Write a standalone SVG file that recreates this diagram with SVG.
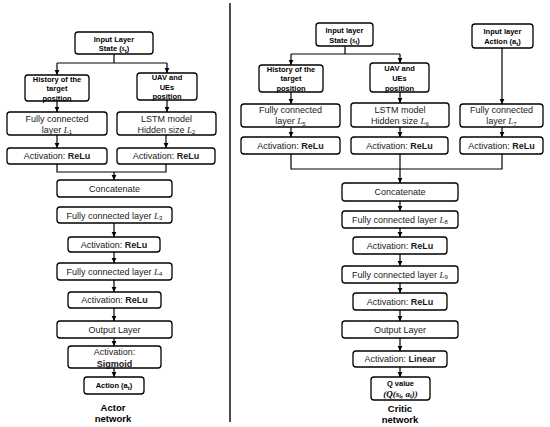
<svg xmlns="http://www.w3.org/2000/svg" width="550" height="427" viewBox="0 0 550 427">
<defs>
<marker id="ah" markerUnits="userSpaceOnUse" markerWidth="6" markerHeight="6" viewBox="0 0 6 6" refX="5" refY="3" orient="auto">
<path d="M0,0.6 L5,3 L0,5.4 Z" fill="#000"/>
</marker>
<style>
rect{fill:#fff;stroke:#000;stroke-width:1.3;rx:3;ry:3}
text{font-family:"Liberation Sans",Arial,sans-serif;font-size:9px;text-anchor:middle;fill:#1a1a1a}
.b{font-weight:bold}
.s{font-size:7.5px;font-weight:bold;fill:#000}
.t{font-size:9.5px;font-weight:bold;fill:#000}
.m{font-family:"Liberation Serif","Times New Roman",serif;font-style:italic}
.sub{font-size:6px}
.q{font-size:9px;font-weight:bold;fill:#000}
#conn path,#conn line{fill:none;stroke:#000;stroke-width:1.2}
.a{marker-end:url(#ah)}
</style>
</defs>
<rect x="0" y="0" width="550" height="427" style="fill:#fff;stroke:none"/>
<g id="conn">
<line x1="230" y1="3" x2="230" y2="422" style="stroke-width:1.4"/>
<path d="M114,54 V63 M57,63 H167"/>
<path class="a" d="M57,63 V75"/>
<path class="a" d="M167,63 V73"/>
<path class="a" d="M57,101 V112"/>
<path class="a" d="M167,100 V112"/>
<path class="a" d="M57,135 V148"/>
<path class="a" d="M166,135 V148"/>
<path d="M57,164 V172 H166 V164"/>
<path class="a" d="M114,172 V180"/>
<path class="a" d="M114,223 V237"/>
<path class="a" d="M114,252 V263"/>
<path class="a" d="M114,280 V292"/>
<path class="a" d="M114,308 V321"/>
<path class="a" d="M114,338 V346"/>
<path class="a" d="M114,368 V377"/>
<path d="M345,46 V54 M291,54 H400"/>
<path class="a" d="M291,54 V65"/>
<path class="a" d="M400,54 V63"/>
<path class="a" d="M502,48 V104"/>
<path class="a" d="M291,92 V104"/>
<path class="a" d="M400,92 V103"/>
<path class="a" d="M291,127 V137"/>
<path class="a" d="M400,127 V137"/>
<path class="a" d="M502,127 V137"/>
<path d="M291,154 V169 H502 V154 M400,154 V169"/>
<path class="a" d="M400,169 V183"/>
<path class="a" d="M400,201 V211"/>
<path class="a" d="M400,228 V237"/>
<path class="a" d="M400,254 V266"/>
<path class="a" d="M400,283 V293"/>
<path class="a" d="M400,310 V321"/>
<path class="a" d="M400,338 V351"/>
<path class="a" d="M400,367 V377"/>
</g>
<g id="in1"><rect x="75" y="32" width="78" height="22"/>
<text class="s" x="114" y="41.5">Input Layer</text>
<text class="s" x="114" y="51">State (<tspan class="m">s</tspan><tspan class="sub" dy="1.5">t</tspan><tspan dy="-1.5">)</tspan></text></g>
<g id="hist1"><rect x="25" y="75" width="64" height="26"/>
<text class="s" x="57" y="81.5">History of the</text>
<text class="s" x="57" y="91">target</text>
<text class="s" x="57" y="100.5">position</text></g>
<g id="uav1"><rect x="137" y="73" width="60" height="27"/>
<text class="s" x="167" y="80">UAV and</text>
<text class="s" x="167" y="89.5">UEs</text>
<text class="s" x="167" y="99">position</text></g>
<g id="fc1"><rect x="7" y="112" width="100" height="23"/>
<text x="57" y="121.5">Fully connected</text>
<text x="57" y="132.5">layer <tspan class="m">L</tspan><tspan class="sub" dy="1.5">1</tspan></text></g>
<g id="lstm1"><rect x="117" y="112" width="99" height="23"/>
<text x="166.5" y="121.5">LSTM model</text>
<text x="166.5" y="132.5">Hidden size <tspan class="m">L</tspan><tspan class="sub" dy="1.5">2</tspan></text></g>
<g id="act1"><rect x="7" y="148" width="100" height="16"/>
<text x="57" y="159">Activation: <tspan class="b">ReLu</tspan></text></g>
<g id="act2"><rect x="117" y="148" width="98" height="16"/>
<text x="166" y="159">Activation: <tspan class="b">ReLu</tspan></text></g>
<g id="concat1"><rect x="57" y="180" width="115" height="17"/>
<text x="114.5" y="191.5">Concatenate</text></g>
<g id="fc3"><rect x="57" y="207" width="115" height="16"/>
<text x="114.5" y="218.5">Fully connected layer <tspan class="m">L</tspan><tspan class="sub" dy="1.5">3</tspan></text></g>
<g id="act3"><rect x="68" y="237" width="92" height="15"/>
<text x="114" y="247.5">Activation: <tspan class="b">ReLu</tspan></text></g>
<g id="fc4"><rect x="57" y="263" width="115" height="17"/>
<text x="114.5" y="274.5">Fully connected layer <tspan class="m">L</tspan><tspan class="sub" dy="1.5">4</tspan></text></g>
<g id="act4"><rect x="68" y="292" width="93" height="16"/>
<text x="114.5" y="303">Activation: <tspan class="b">ReLu</tspan></text></g>
<g id="out1"><rect x="57" y="321" width="115" height="17"/>
<text x="114.5" y="332.5">Output Layer</text></g>
<g id="sig"><rect x="68" y="346" width="93" height="22"/>
<text x="114.5" y="355">Activation:</text>
<text class="b" x="114.5" y="366.5">Sigmoid</text></g>
<g id="action1"><rect x="84" y="377" width="60" height="17"/>
<text class="s" x="114" y="388">Action (a<tspan class="sub" dy="1.5">t</tspan><tspan dy="-1.5">)</tspan></text></g>
<g id="actor"><text class="t" x="113" y="410.5">Actor</text>
<text class="t" x="113" y="422">network</text></g>
<g id="in2"><rect x="316" y="23" width="57" height="23"/>
<text class="s" x="344.5" y="32.5">Input layer</text>
<text class="s" x="344.5" y="42.5">State (<tspan class="m">s</tspan><tspan class="sub" dy="1.5">t</tspan><tspan dy="-1.5">)</tspan></text></g>
<g id="in3"><rect x="472" y="24" width="61" height="24"/>
<text class="s" x="502.5" y="34">Input layer</text>
<text class="s" x="502.5" y="44">Action (a<tspan class="sub" dy="1.5">t</tspan><tspan dy="-1.5">)</tspan></text></g>
<g id="hist2"><rect x="259" y="65" width="64" height="27"/>
<text class="s" x="291" y="71.5">History of the</text>
<text class="s" x="291" y="81">target</text>
<text class="s" x="291" y="90.5">position</text></g>
<g id="uav2"><rect x="370" y="63" width="59" height="29"/>
<text class="s" x="399.5" y="71">UAV and</text>
<text class="s" x="399.5" y="81">UEs</text>
<text class="s" x="399.5" y="90.5">position</text></g>
<g id="fc5"><rect x="241" y="104" width="99" height="23"/>
<text x="290.5" y="113">Fully connected</text>
<text x="290.5" y="124">layer <tspan class="m">L</tspan><tspan class="sub" dy="1.5">5</tspan></text></g>
<g id="lstm2"><rect x="351" y="103" width="98" height="24"/>
<text x="400" y="112.5">LSTM model</text>
<text x="400" y="124">Hidden size <tspan class="m">L</tspan><tspan class="sub" dy="1.5">6</tspan></text></g>
<g id="fc7"><rect x="460" y="104" width="83" height="23"/>
<text x="501.5" y="113">Fully connected</text>
<text x="501.5" y="124">layer <tspan class="m">L</tspan><tspan class="sub" dy="1.5">7</tspan></text></g>
<g id="act5"><rect x="241" y="137" width="99" height="17"/>
<text x="290.5" y="148.5">Activation: <tspan class="b">ReLu</tspan></text></g>
<g id="act6"><rect x="351" y="137" width="97" height="17"/>
<text x="399.5" y="148.5">Activation: <tspan class="b">ReLu</tspan></text></g>
<g id="act7"><rect x="460" y="137" width="83" height="17"/>
<text x="501.5" y="148.5">Activation: <tspan class="b">ReLu</tspan></text></g>
<g id="concat2"><rect x="342" y="183" width="116" height="18"/>
<text x="400" y="195">Concatenate</text></g>
<g id="fc8"><rect x="342" y="211" width="116" height="17"/>
<text x="400" y="222.5">Fully connected layer <tspan class="m">L</tspan><tspan class="sub" dy="1.5">8</tspan></text></g>
<g id="act8"><rect x="353" y="237" width="94" height="17"/>
<text x="400" y="248.5">Activation: <tspan class="b">ReLu</tspan></text></g>
<g id="fc9"><rect x="342" y="266" width="116" height="17"/>
<text x="400" y="277.5">Fully connected layer <tspan class="m">L</tspan><tspan class="sub" dy="1.5">9</tspan></text></g>
<g id="act9"><rect x="353" y="293" width="94" height="17"/>
<text x="400" y="304.5">Activation: <tspan class="b">ReLu</tspan></text></g>
<g id="out2"><rect x="342" y="321" width="116" height="17"/>
<text x="400" y="332.5">Output Layer</text></g>
<g id="lin"><rect x="353" y="351" width="94" height="16"/>
<text x="400" y="362">Activation: <tspan class="b">Linear</tspan></text></g>
<g id="qval"><rect x="371" y="377" width="59" height="23"/>
<text class="s" x="400.5" y="386">Q value</text>
<text class="q" x="400.5" y="396.5"><tspan class="m">(Q(s</tspan><tspan class="sub m" dy="1.5">t</tspan><tspan class="m" dy="-1.5">, a</tspan><tspan class="sub m" dy="1.5">t</tspan><tspan class="m" dy="-1.5">))</tspan></text></g>
<g id="critic"><text class="t" x="400" y="411.5">Critic</text>
<text class="t" x="400" y="423">network</text></g>
</svg>
